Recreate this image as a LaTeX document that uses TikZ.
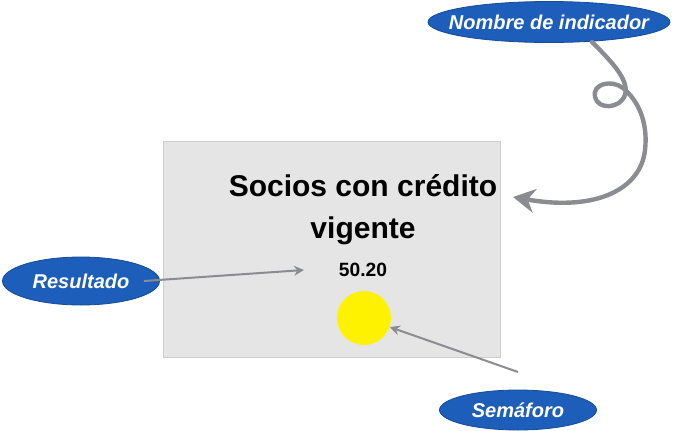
\documentclass[tikz,border=0pt]{standalone}
\usepackage{fontspec}
\setmainfont{Liberation Sans}
\usetikzlibrary{shapes.geometric,arrows.meta}

\definecolor{tagblue}{RGB}{28,94,186}
\definecolor{cardgray}{RGB}{229,229,229}
\definecolor{pointer}{RGB}{138,140,146}
\definecolor{lamp}{RGB}{255,242,0}

\tikzset{
  tag/.style={ellipse,fill=tagblue,draw=tagblue!80!black,line width=0.4pt,
    text=white,font=\fontsize{10}{12}\selectfont\bfseries\itshape,
    inner xsep=-8pt,inner ysep=1pt},
  pointer/.style={draw=pointer,line width=1pt,-{Stealth[length=5pt,width=5pt]}}
}

\begin{document}
\begin{tikzpicture}[x=0.5pt,y=-0.5pt]
      \useasboundingbox (0,0) rectangle (677,430);

      \node[fill=cardgray,draw=cardgray!90!black,line width=0.3pt,
        minimum width=168.5pt,minimum height=108pt,inner sep=0pt] (card) at (331.5,249) {};
      \node[align=center,font=\fontsize{15}{21}\selectfont\bfseries] (title) at (363,210)
        {Socios con crédito\\vigente};
      \node[font=\fontsize{9.6}{11}\selectfont\bfseries] (value) at (363,270) {50.20};
      \node[circle,fill=lamp,minimum size=27pt,inner sep=0pt] (lamp) at (364,318) {};

      \node[tag,minimum width=78.5pt,minimum height=24pt] (res) at (81,281) {Resultado};
      \node[tag,minimum width=121pt,minimum height=20.5pt] (name) at (549,22) {Nombre de indicador};
      \node[tag,minimum width=78.5pt,minimum height=20pt] (sem) at (518,410) {Semáforo};

      \coordinate (resTip) at (304,270);
      \coordinate (semTail) at (518,372);
      \coordinate (nameTail) at (592,42);
      \coordinate (nameTip) at (513,197);

      \draw[pointer] ([xshift=-8pt]res.east) -- (resTip);
      \draw[pointer] (semTail) -- (lamp);
      \draw[draw=pointer,line width=2.2pt,line cap=round,-{Stealth[length=11pt,width=12pt]}]
        (nameTail) .. controls (610,60) and (630,80) .. (625,95)
        .. controls (620,109) and (598,110) .. (595,97)
        .. controls (592,84) and (611,79) .. (623,88)
        .. controls (640,102) and (648,125) .. (645,150)
        .. controls (641,188) and (598,212) .. (nameTip);
    \end{tikzpicture}
\end{document}
